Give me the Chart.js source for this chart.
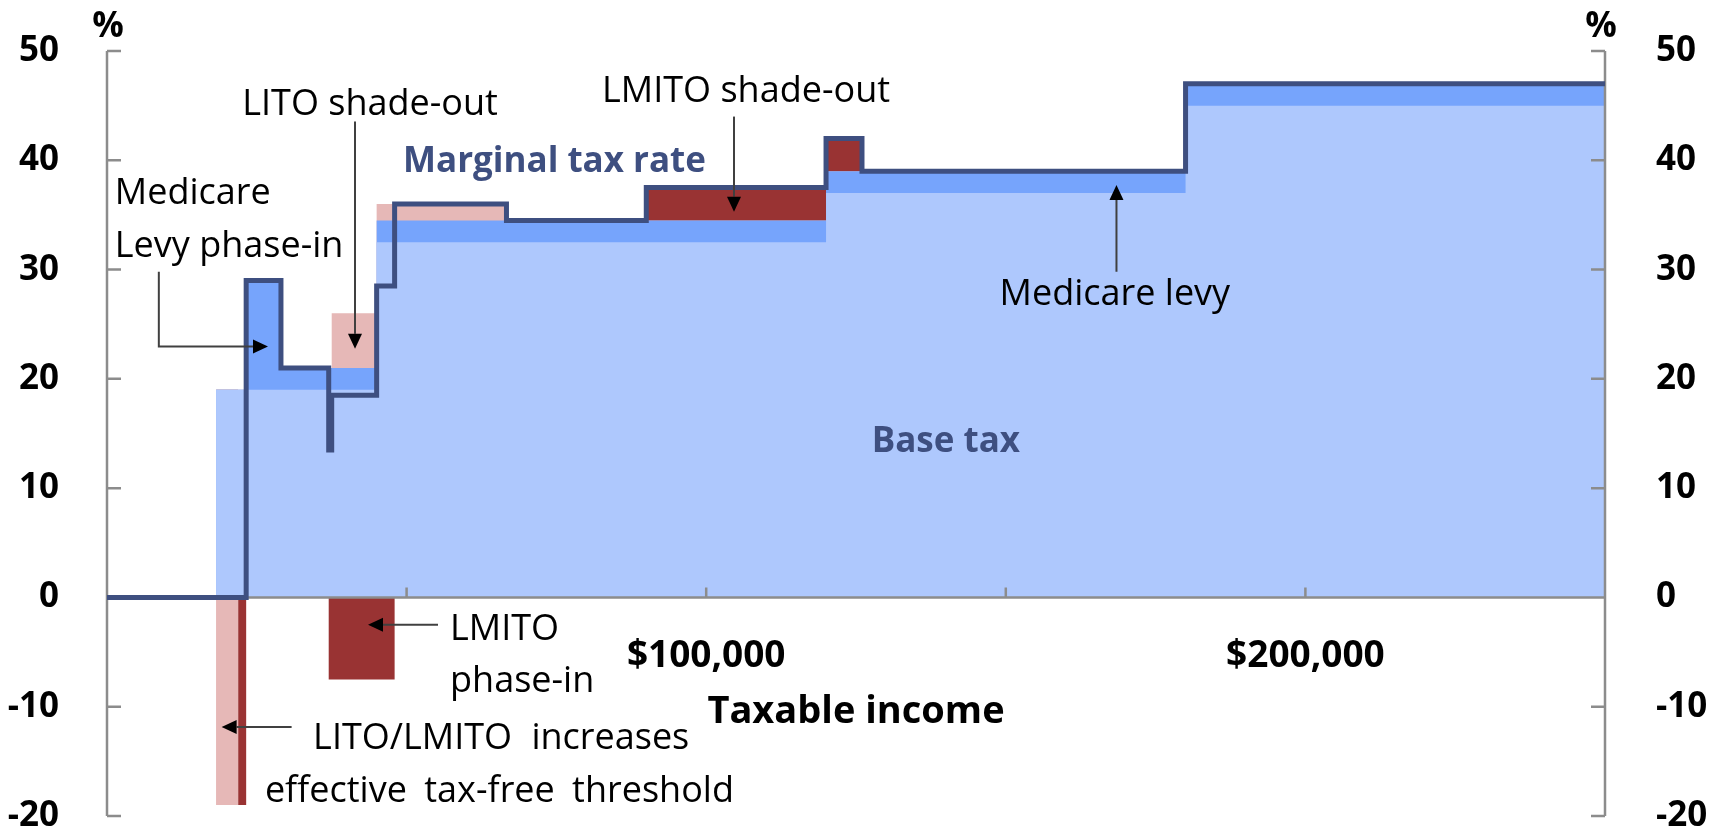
<!DOCTYPE html>
<html>
<head>
<meta charset="utf-8">
<script src="https://cdn.jsdelivr.net/npm/chart.js@4.4.1/dist/chart.umd.min.js"></script>
<style>
  html, body { margin: 0; padding: 0; background: #fff; }
</style>
</head>
<body>
<canvas id="chart" width="1715" height="832"></canvas>
<script>
// Income break points ($) - each rate holds from its break point to the next one
var incomes      = [0, 18200, 21884, 23226, 29032, 37000, 37500, 45000, 48000, 66667, 90000, 120000, 126000, 180000, 250000];
// Components of the marginal rate (%)
var baseTax      = [0, 19, 19, 19, 19, 19, 19, 32.5, 32.5, 32.5, 32.5, 37, 37, 45, 45];
var medicareLevy = [0, 0, 0, 10, 2, 2, 2, 2, 2, 2, 2, 2, 2, 2, 2];
var litoEffect   = [0, -19, 0, 0, 0, 0, 5, 1.5, 1.5, 0, 0, 0, 0, 0, 0];
var lmitoEffect  = [0, 0, -19, 0, 0, -7.5, -7.5, -7.5, 0, 0, 3, 3, 0, 0, 0];
var marginalRate = [0, 0, 0, 29, 21, 13.5, 18.5, 28.5, 36, 34.5, 37.5, 42, 39, 47, 47];

var yTicks = [-20, -10, 0, 10, 20, 30, 40, 50];
var xLabelled = [100000, 200000];

var FONT = '"Open Sans", "Noto Sans", sans-serif';
var NAVY = '#3e4f80';
var LIGHT = '#aec8fd';
var MID = '#76a4fc';
var PINK = '#e6b8b7';
var RED = '#993333';
var AXIS = '#8c8c8c';

// text labels and arrows, in chart values (income, %)
var notes = [
  {text: 'Medicare', x: 1300, y: 36.0, align: 'left'},
  {text: 'Levy phase-in', x: 1300, y: 31.15, align: 'left'},
  {text: 'LITO shade-out', x: 43900, y: 44.15, align: 'center'},
  {text: 'Marginal tax rate', x: 49400, y: 38.95, align: 'left', bold: true, color: NAVY},
  {text: 'LMITO shade-out', x: 106650, y: 45.35, align: 'center'},
  {text: 'Medicare levy', x: 168200, y: 26.75, align: 'center'},
  {text: 'Base tax', x: 140000, y: 13.3, align: 'center', bold: true, color: NAVY},
  {text: 'LMITO', x: 57250, y: -3.9, align: 'left'},
  {text: 'phase-in', x: 57250, y: -8.65, align: 'left'},
  {text: 'LITO/LMITO increases', x: 34400, y: -13.85, align: 'left', gap: 10},
  {text: 'effective tax-free threshold', x: 26350, y: -18.7, align: 'left', gap: 8}
];
var arrows = [
  [[8650, 29.8], [8650, 22.95], [26870, 22.95]],
  [[41390, 43.55], [41390, 22.75]],
  [[104640, 44.0], [104640, 35.3]],
  [[168470, 29.8], [168470, 37.75]],
  [[55240, -2.5], [43560, -2.5]],
  [[30810, -11.85], [19130, -11.85]]
];

function points(values) {
  return values.map(function(v, i) { return {x: incomes[i], y: v}; });
}

function layer(label, values, color) {
  return {
    label: label,
    data: points(values),
    stack: 'layers',
    stepped: true,
    fill: 'origin',
    backgroundColor: color,
    borderColor: 'rgba(0,0,0,0)',
    borderWidth: 0,
    pointRadius: 0
  };
}

function drawAxes(chart) {
  var ctx = chart.ctx;
  var a = chart.chartArea;
  var x = chart.scales.x, y = chart.scales.y;
  var y0 = y.getPixelForValue(0);
  ctx.save();
  ctx.strokeStyle = AXIS;
  ctx.lineWidth = 2.5;
  ctx.beginPath();
  ctx.moveTo(a.left, a.top); ctx.lineTo(a.left, a.bottom);
  ctx.moveTo(a.right, a.top); ctx.lineTo(a.right, a.bottom);
  ctx.moveTo(a.left, y0); ctx.lineTo(a.right, y0);
  yTicks.forEach(function(v) {
    var py = y.getPixelForValue(v);
    ctx.moveTo(a.left, py); ctx.lineTo(a.left + 14, py);
    ctx.moveTo(a.right, py); ctx.lineTo(a.right - 14, py);
  });
  x.ticks.forEach(function(t) {
    if (t.value <= x.min || t.value >= x.max) return;
    var px = x.getPixelForValue(t.value);
    ctx.moveTo(px, y0); ctx.lineTo(px, y0 - 10);
  });
  ctx.stroke();

  ctx.fillStyle = '#000';
  ctx.font = 'bold 35px ' + FONT;
  ctx.textAlign = 'center';
  ctx.textBaseline = 'alphabetic';
  ctx.fillText('%', a.left + 1, a.top - 14);
  ctx.fillText('%', a.right - 4, a.top - 14);
  ctx.restore();
}

function drawNotes(chart) {
  var ctx = chart.ctx;
  var x = chart.scales.x, y = chart.scales.y;
  ctx.save();
  ctx.textBaseline = 'alphabetic';
  notes.forEach(function(n) {
    ctx.font = (n.bold ? 'bold 35px ' : '36px ') + FONT;
    ctx.fillStyle = n.color || '#000';
    ctx.textAlign = n.align;
    ctx.wordSpacing = (n.gap || 0) + 'px';
    ctx.fillText(n.text, x.getPixelForValue(n.x), y.getPixelForValue(n.y));
  });
  ctx.wordSpacing = '0px';

  arrows.forEach(function(path) {
    var pts = path.map(function(p) { return [x.getPixelForValue(p[0]), y.getPixelForValue(p[1])]; });
    var tip = pts[pts.length - 1], prev = pts[pts.length - 2];
    var ang = Math.atan2(tip[1] - prev[1], tip[0] - prev[0]);
    var head = 15, half = 7;
    ctx.strokeStyle = '#404040';
    ctx.lineWidth = 2;
    ctx.beginPath();
    ctx.moveTo(pts[0][0], pts[0][1]);
    for (var i = 1; i < pts.length - 1; i++) ctx.lineTo(pts[i][0], pts[i][1]);
    ctx.lineTo(tip[0] - Math.cos(ang) * head, tip[1] - Math.sin(ang) * head);
    ctx.stroke();
    ctx.fillStyle = '#000';
    ctx.beginPath();
    ctx.moveTo(tip[0], tip[1]);
    ctx.lineTo(tip[0] - Math.cos(ang) * head - Math.sin(ang) * half, tip[1] - Math.sin(ang) * head + Math.cos(ang) * half);
    ctx.lineTo(tip[0] - Math.cos(ang) * head + Math.sin(ang) * half, tip[1] - Math.sin(ang) * head - Math.cos(ang) * half);
    ctx.closePath();
    ctx.fill();
  });
  ctx.restore();
}

var yAxis = function(side, width, pad) {
  return {
    type: 'linear',
    position: side,
    min: -20,
    max: 50,
    stacked: side === 'left',
    grid: {display: false},
    border: {display: false},
    ticks: {padding: pad, color: '#000', font: {family: FONT, size: 35, weight: 'bold'}},
    afterBuildTicks: function(s) { s.ticks = yTicks.map(function(v) { return {value: v}; }); },
    afterFit: function(s) { s.width = width; s.paddingTop = 0; s.paddingBottom = 0; }
  };
};

new Chart(document.getElementById('chart'), {
  type: 'line',
  data: {
    datasets: [
      {
        label: 'Marginal tax rate',
        data: points(marginalRate),
        stack: 'mtr',
        stepped: true,
        fill: false,
        borderColor: NAVY,
        borderWidth: 5,
        borderJoinStyle: 'miter',
        borderCapStyle: 'butt',
        pointRadius: 0
      },
      layer('Base tax', baseTax, LIGHT),
      layer('Medicare levy', medicareLevy, MID),
      layer('LITO', litoEffect, PINK),
      layer('LMITO', lmitoEffect, RED)
    ]
  },
  options: {
    responsive: false,
    animation: false,
    layout: {padding: {top: 51, bottom: 16, left: 0, right: 0}},
    plugins: {legend: {display: false}, tooltip: {enabled: false}},
    scales: {
      x: {
        type: 'linear',
        min: 0,
        max: 250000,
        position: {y: 0},
        grid: {display: false},
        border: {display: false},
        ticks: {
          stepSize: 50000,
          autoSkip: false,
          maxRotation: 0,
          padding: 29,
          color: '#000',
          font: {family: FONT, size: 37, weight: 'bold'},
          callback: function(v) { return xLabelled.indexOf(v) >= 0 ? '$' + v.toLocaleString('en-US') : ''; }
        },
        title: {display: true, text: 'Taxable income', color: '#000', font: {family: FONT, size: 38, weight: 'bold'}, padding: {top: -18, bottom: 0}},
        afterFit: function(s) { s.paddingLeft = 0; s.paddingRight = 0; }
      },
      y: yAxis('left', 107, 40),
      y2: yAxis('right', 110, 43)
    }
  },
  plugins: [{
    id: 'decor',
    beforeDatasetDraw: function(chart, args) { if (args.index === 0) drawAxes(chart); },
    afterDatasetsDraw: function(chart) { drawNotes(chart); }
  }]
});
</script>
</body>
</html>
